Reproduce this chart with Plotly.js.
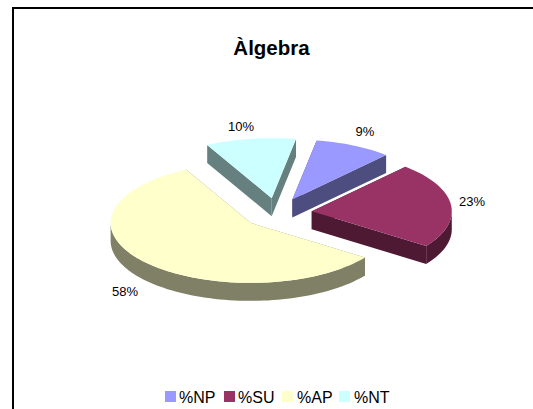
<!DOCTYPE html>
<html>
<head>
<meta charset="utf-8">
<script src="https://cdn.plot.ly/plotly-3.0.1.min.js"></script>
<style>html,body{margin:0;padding:0;background:#fff}#chart{width:533px;height:409px}</style>
</head>
<body>
<div id="chart"></div>
<script>
var categories = ['%NP', '%SU', '%AP', '%NT'];
var values = [8.9, 23.1, 57.6, 10.4];
var topColors = ['#9999FF', '#993366', '#FFFFCC', '#CCFFFF'];
var sideColors = ['#4D4D80', '#4D1933', '#808066', '#668080'];
var chartTitle = 'Àlgebra';

// view of the tilted pie, in the 533x409 axis space
var cx = 277, cy = 213, rx = 140, ry = 60, depth = 18, explode = 35, startAngle = 10;
var labelX = [365, 472, 125, 241];
var labelY = [133, 203, 293, 128];
var swatchX = [170.5, 229.5, 287.5, 344.5];
var legendTextX = [179, 238, 297, 354];
var legendY = 397.5;
var swatchY = 396.5;

var total = values.reduce(function (a, b) { return a + b; }, 0);
var RAD = Math.PI / 180;
var slices = [], acc = startAngle;
values.forEach(function (v, i) {
  var a0 = acc, a1 = acc + v / total * 360;
  acc = a1;
  var mid = (a0 + a1) / 2 * RAD;
  slices.push({ i: i, a0: a0, a1: a1,
    tx: cx + explode * Math.sin(mid),
    ty: cy - explode * (ry / rx) * Math.cos(mid) });
});

function rim(s, a) { return [s.tx + rx * Math.sin(a * RAD), s.ty - ry * Math.cos(a * RAD)]; }
function arc(s, a0, a1) {
  var pts = [], n = Math.max(2, Math.ceil(Math.abs(a1 - a0) / 2));
  for (var k = 0; k <= n; k++) pts.push(rim(s, a0 + (a1 - a0) * k / n));
  return pts;
}
function poly(pts, color) {
  return { type: 'scatter', mode: 'none', fill: 'toself', fillcolor: color, showlegend: false, hoverinfo: 'skip',
    x: pts.map(function (p) { return p[0]; }), y: pts.map(function (p) { return p[1]; }) };
}
function down(pts) { return pts.map(function (p) { return [p[0], p[1] + depth]; }); }

var traces = [];
// painter's order: back slices first
[3, 0, 1, 2].forEach(function (idx) {
  var s = slices[idx], col = sideColors[idx], tip = [s.tx, s.ty];
  var A = rim(s, s.a0), B = rim(s, s.a1);
  traces.push(poly([tip, A].concat(down([A, tip])), col));
  traces.push(poly([tip, B].concat(down([B, tip])), col));
  // outer wall: only the part of the rim that faces the viewer
  var lo = Math.max(s.a0, 90), hi = Math.min(s.a1, 270);
  if (hi > lo) {
    var r = arc(s, lo, hi);
    traces.push(poly(r.concat(down(r).reverse()), col));
  }
  traces.push(poly([tip].concat(arc(s, s.a0, s.a1)), topColors[idx]));
});

// percentage labels
traces.push({ type: 'scatter', mode: 'text', showlegend: false, hoverinfo: 'skip',
  x: labelX, y: labelY,
  text: values.map(function (v) { return Math.round(v) + '%'; }),
  textposition: 'middle center',
  textfont: { family: 'Liberation Sans, Arial, sans-serif', size: 13, color: '#000' } });

// legend row
categories.forEach(function (c, i) {
  traces.push({ type: 'scatter', mode: 'markers', name: c, showlegend: false, hoverinfo: 'skip',
    x: [swatchX[i]], y: [swatchY],
    marker: { symbol: 'square', size: 11, color: topColors[i], line: { width: 0 } } });
});

var layout = {
  width: 533, height: 409, margin: { l: 0, r: 0, t: 0, b: 0 },
  paper_bgcolor: '#fff', plot_bgcolor: '#fff', showlegend: false,
  title: { text: '<b>' + chartTitle + '</b>', x: 271.5 / 533, xanchor: 'center', y: 1 - 47.5 / 409, yanchor: 'middle',
    font: { family: 'Liberation Sans, Arial, sans-serif', size: 20.5, color: '#000' } },
  xaxis: { range: [0, 533], visible: false, fixedrange: true },
  yaxis: { range: [409, 0], visible: false, fixedrange: true },
  annotations: categories.map(function (c, i) {
    return { x: legendTextX[i], y: legendY, text: c, showarrow: false, xanchor: 'left', yanchor: 'middle', xref: 'x', yref: 'y',
      borderpad: 0, borderwidth: 0,
      font: { family: 'Liberation Sans, Arial, sans-serif', size: 16, color: '#000' } };
  }),
  shapes: [
    { type: 'line', xref: 'x', yref: 'y', x0: 12, y0: 8, x1: 533, y1: 8, line: { color: '#000', width: 2 } },
    { type: 'line', xref: 'x', yref: 'y', x0: 13, y0: 7, x1: 13, y1: 409, line: { color: '#000', width: 2 } }
  ]
};
Plotly.newPlot('chart', traces, layout, { displayModeBar: false, staticPlot: true });
</script>
</body>
</html>
